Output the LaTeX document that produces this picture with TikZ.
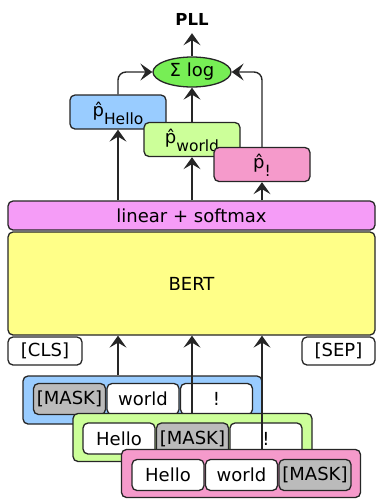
\documentclass[tikz,border=0pt]{standalone}
\usepackage{fontspec}
\setmainfont{DejaVu Sans}
\usetikzlibrary{arrows.meta,shapes.geometric}

\definecolor{linec}{HTML}{262626}
\definecolor{pblue}{HTML}{99CCFF}
\definecolor{pgreen}{HTML}{CCFF99}
\definecolor{ppink}{HTML}{F59ACB}
\definecolor{lviolet}{HTML}{F59CF7}
\definecolor{byellow}{HTML}{FFFF88}
\definecolor{sumgreen}{HTML}{77EE55}
\definecolor{maskgray}{HTML}{BBBBBB}

% p-hat with a lowered subscript word
\newcommand\phatsub[1]{\^{p}\raisebox{-0.45em}{\fontsize{15.5}{16}\selectfont #1}}

\begin{document}
\begin{tikzpicture}[x=1pt,y=-1pt,
  font=\fontsize{18}{21}\selectfont,
  box/.style={draw=linec, line width=1.3pt, rounded corners=5pt, inner sep=0pt},
  probbox/.style={box, minimum width=96pt, text height=21pt, text depth=13pt},
  sentbox/.style={box, minimum width=239pt, minimum height=48pt},
  cell/.style={box, fill=white, minimum width=72pt, minimum height=31pt},
  maskcell/.style={cell, fill=maskgray},
  arr/.style={draw=linec, line width=1.4pt, -{Stealth[length=12pt,width=17pt,inset=5pt]}}
]
\useasboundingbox (0,0) rectangle (376,499);

% output
\node[font=\bfseries\fontsize{16.5}{18}\selectfont, inner xsep=0pt, inner ysep=8pt,
      text height=12pt, text depth=0pt] (pll) at (192,19) {PLL};
\node[ellipse, draw=linec, line width=1.3pt, fill=sumgreen, minimum width=78pt,
      minimum height=30pt, inner sep=0pt] (sum) at (192,72) {Σ log};

% per-token probabilities
\node[probbox, fill=pblue]  (ph) at (118,112)   {\phatsub{Hello}};
\node[probbox, fill=pgreen] (pw) at (192,139.5) {\phatsub{world}};
\node[probbox, fill=ppink]  (pe) at (262,164.5) {\phatsub{!}};

% model
\node[box, fill=lviolet, minimum width=367pt, minimum height=29pt] (lin) at (191.5,215.5) {linear + softmax};
\node[box, fill=byellow, minimum width=367pt, minimum height=103pt] (bert) at (191.5,283.5) {BERT};

% special tokens
\node[box, fill=white, minimum width=74pt, minimum height=28pt] (cls) at (45,351) {[CLS]};
\node[box, fill=white, minimum width=73pt, minimum height=28pt] (sep) at (338.5,351) {[SEP]};

% masked copies of the sentence
\node[sentbox, fill=pblue] (s1) at (142.5,400) {};
\node[maskcell] (s1a) at (69.5,399)  {[MASK]};
\node[cell]     (s1b) at (143,399)   {world};
\node[cell]     (s1c) at (216.5,399) {!};

\node[sentbox, fill=pgreen] (s2) at (192.5,437.5) {};
\node[cell]     (s2a) at (119,438.5)   {Hello};
\node[maskcell] (s2b) at (192.5,438.5) {[MASK]};
\node[cell]     (s2c) at (266,438.5)   {!};

\node[sentbox, fill=ppink] (s3) at (241,473.5) {};
\node[cell]     (s3a) at (168,475)   {Hello};
\node[cell]     (s3b) at (241.5,475) {world};
\node[maskcell] (s3c) at (315,475)   {[MASK]};

% inputs into BERT
\draw[arr] (s1.north -| ph.south) -- (bert.south -| ph.south);
\draw[arr] (s2.north -| pw.south) -- (bert.south -| pw.south);
\draw[arr] (s3.north -| pe.south) -- (bert.south -| pe.south);

% softmax outputs
\draw[arr] (lin.north -| ph.south) -- (ph.south);
\draw[arr] (lin.north -| pw.south) -- (pw.south);
\draw[arr] (lin.north -| pe.south) -- (pe.south);

% summing log-probabilities
\draw[arr, rounded corners=8pt] (ph.north) |- (sum.west);
\draw[arr] (pw.north) -- (sum.south);
\draw[arr, rounded corners=8pt] (pe.north) |- (sum.east);
\draw[arr] (sum.north) -- (pll.south);
\end{tikzpicture}
\end{document}
